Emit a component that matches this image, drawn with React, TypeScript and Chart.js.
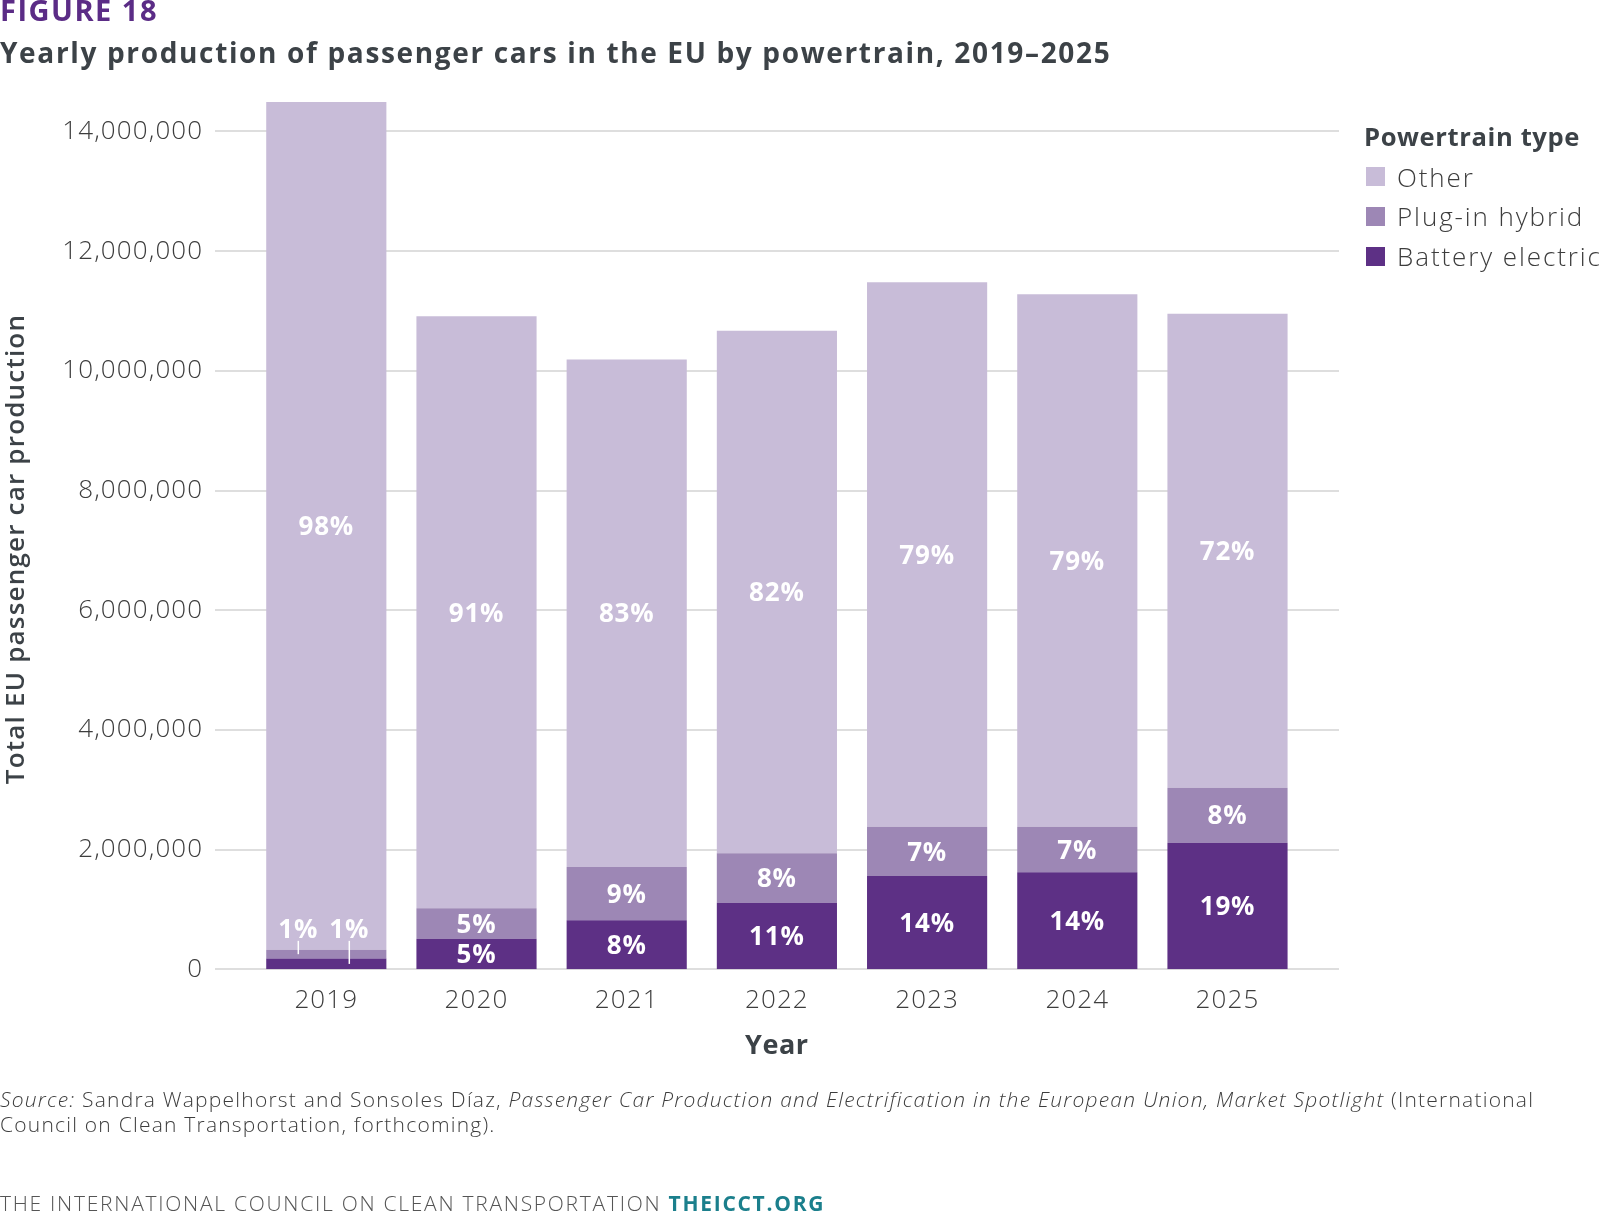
import React, { useEffect, useRef } from 'react';
import { Chart, registerables } from 'chart.js';

Chart.register(...registerables);

// ---------- data ----------
const years = ['2019', '2020', '2021', '2022', '2023', '2024', '2025'];
const batteryElectric = [180000, 510000, 820000, 1110000, 1560000, 1620000, 2115000];
const plugInHybrid = [145000, 510000, 890000, 830000, 820000, 760000, 920000];
const other = [14165000, 9890000, 8480000, 8730000, 9100000, 8900000, 7920000];

const bevPct = ['1%', '5%', '8%', '11%', '14%', '14%', '19%'];
const phevPct = ['1%', '5%', '9%', '8%', '7%', '7%', '8%'];
const otherPct = ['98%', '91%', '83%', '82%', '79%', '79%', '72%'];

const yTickValues = [0, 2000000, 4000000, 6000000, 8000000, 10000000, 12000000, 14000000];

const seriesNames = ['Battery electric', 'Plug-in hybrid', 'Other'];
const seriesColors = ['#5d3085', '#9d87b5', '#c8bcd8'];

// ---------- layout / style ----------
const FONT = '"Open Sans", "Noto Sans", sans-serif';
const W = 1600;
const H = 1214;
const GRID_LEFT = 215;
const GRID_RIGHT = 1339;

const spacingPlugin = {
  id: 'spacing',
  beforeDraw(chart: any) {
    chart.ctx.letterSpacing = '1.1px';
  },
  afterDraw(chart: any) {
    chart.ctx.letterSpacing = '0px';
  },
};

const gridPlugin = {
  id: 'extGrid',
  beforeDatasetsDraw(chart: any) {
    const { ctx } = chart;
    const y = chart.scales.y;
    ctx.save();
    ctx.strokeStyle = '#dedede';
    ctx.lineWidth = 2;
    y.ticks.forEach((t: any) => {
      const py = Math.round(y.getPixelForValue(t.value));
      ctx.beginPath();
      ctx.moveTo(GRID_LEFT, py);
      ctx.lineTo(GRID_RIGHT, py);
      ctx.stroke();
    });
    ctx.restore();
  },
};

const labelPlugin = {
  id: 'segLabels',
  afterDatasetsDraw(chart: any) {
    const { ctx } = chart;
    const sets = [bevPct, phevPct, otherPct];
    const fs = 26;
    ctx.save();
    ctx.letterSpacing = '0.8px';
    ctx.font = `700 ${fs}px ${FONT}`;
    ctx.fillStyle = '#ffffff';
    ctx.strokeStyle = '#ffffff';
    ctx.lineWidth = 1.5;
    ctx.textAlign = 'center';
    ctx.textBaseline = 'alphabetic';
    const phevMeta = chart.getDatasetMeta(1);
    chart.data.datasets.forEach((_ds: any, di: number) => {
      const meta = chart.getDatasetMeta(di);
      meta.data.forEach((bar: any, i: number) => {
        const p = bar.getProps(['x', 'y', 'base'], true);
        const mid = (p.y + p.base) / 2;
        let tx = p.x;
        let ty = mid;
        if (i === 0 && di < 2) {
          const phevTop = phevMeta.data[0].getProps(['y'], true).y;
          tx = p.x + (di === 1 ? -28 : 23);
          ty = phevTop - 21;
          ctx.beginPath();
          ctx.moveTo(tx, ty + 12);
          ctx.lineTo(tx, mid);
          ctx.stroke();
        }
        ctx.fillText(sets[di][i], tx, ty + 0.357 * fs);
      });
    });
    ctx.restore();
  },
};

function ChartCanvas() {
  const ref = useRef<HTMLCanvasElement>(null);
  useEffect(() => {
    if (!ref.current) return;
    const chart = new Chart(ref.current, {
      type: 'bar',
      data: {
        labels: years,
        datasets: [
          { label: seriesNames[0], data: batteryElectric, backgroundColor: seriesColors[0] },
          { label: seriesNames[1], data: plugInHybrid, backgroundColor: seriesColors[1] },
          { label: seriesNames[2], data: other, backgroundColor: seriesColors[2] },
        ],
      },
      options: {
        responsive: false,
        animation: false,
        devicePixelRatio: 1,
        layout: { padding: { left: 0, right: W - 1302.6, top: 95.5, bottom: 184.7 } },
        datasets: { bar: { categoryPercentage: 1, barPercentage: 0.8, borderWidth: 0 } },
        plugins: { legend: { display: false }, tooltip: { enabled: false } },
        scales: {
          x: {
            stacked: true,
            grid: { display: false },
            border: { display: false },
            ticks: { font: { family: FONT, size: 26, weight: 300 }, color: '#3d3d3d', padding: 8 },
            afterFit(s: any) { s.height = 60; },
          },
          y: {
            stacked: true,
            min: 0,
            max: 14600000,
            grid: { display: false, drawTicks: false },
            border: { display: false },
            afterBuildTicks(s: any) {
              s.ticks = yTickValues.map((v) => ({ value: v }));
            },
            ticks: {
              padding: 48,
              font: { family: FONT, size: 26, weight: 300 },
              color: '#3d3d3d',
              callback: (v: any) => Number(v).toLocaleString('en-US'),
            },
            afterFit(s: any) { s.width = 251.2; },
          },
        },
      },
      plugins: [spacingPlugin, gridPlugin, labelPlugin],
    } as any);
    return () => chart.destroy();
  }, []);
  return (
    <canvas
      ref={ref}
      width={W}
      height={H}
      style={{ position: 'absolute', left: 0, top: 0, width: W, height: H }}
    />
  );
}

function Txt(props: { x: number; baseline: number; fs: number; weight?: number; color?: string; children: any; align?: 'left' | 'center'; width?: number; ls?: number }) {
  const { x, baseline, fs, weight = 400, color = '#3d3d3d', children, align = 'left', width, ls = 0 } = props;
  const top = baseline - 0.888 * fs;
  const style: any = {
    position: 'absolute',
    top,
    left: align === 'center' ? x - (width || 400) / 2 : x,
    width: align === 'center' ? width || 400 : undefined,
    textAlign: align,
    fontSize: fs,
    lineHeight: 1,
    fontWeight: weight,
    color,
    whiteSpace: 'nowrap',
    fontFamily: FONT,
    letterSpacing: ls,
  };
  return <div style={style}>{children}</div>;
}

export default function App() {
  const legendRows = [
    { name: seriesNames[2], color: seriesColors[2] },
    { name: seriesNames[1], color: seriesColors[1] },
    { name: seriesNames[0], color: seriesColors[0] },
  ];
  return (
    <div style={{ position: 'absolute', left: 0, top: 0, width: W, height: H, background: '#fff', overflow: 'hidden', fontFamily: FONT }}>
      <ChartCanvas />
      <Txt x={0} baseline={21} fs={29} weight={700} color="#5b2c86" ls={1.5}>FIGURE 18</Txt>
      <Txt x={0} baseline={63} fs={28} weight={700} color="#3c4247" ls={1.65}>
        Yearly production of passenger cars in the EU by powertrain, 2019–2025
      </Txt>
      {/* y axis title */}
      <div
        style={{
          position: 'absolute',
          left: 13.5 - 300,
          top: 549 - 13,
          width: 600,
          height: 26,
          lineHeight: '26px',
          fontSize: 26,
          fontWeight: 600,
          color: '#3c4247',
          textAlign: 'center',
          transform: 'rotate(-90deg)',
          whiteSpace: 'nowrap',
          letterSpacing: 1.2,
        }}
      >
        Total EU passenger car production
      </div>
      <Txt x={776.8} baseline={1054} fs={27} weight={700} color="#3c4247" align="center" width={200} ls={0.5}>Year</Txt>
      {/* legend */}
      <Txt x={1364} baseline={146.7} fs={25.6} weight={700} color="#3c4247" ls={0.6}>Powertrain type</Txt>
      {legendRows.map((r, i) => (
        <React.Fragment key={r.name}>
          <div style={{ position: 'absolute', left: 1366, top: 166.7 + i * 40, width: 19, height: 19, background: r.color }} />
          <Txt x={1397} baseline={187 + i * 39.4} fs={26} weight={300} color="#3d3d3d" ls={1.9}>{r.name}</Txt>
        </React.Fragment>
      ))}
      {/* source */}
      <Txt x={0} baseline={1108} fs={21} weight={300} color="#3d3d3d" ls={1.22}>
        <i>Source:</i> Sandra Wappelhorst and Sonsoles Díaz, <i>Passenger Car Production and Electrification in the European Union, Market Spotlight</i> (International
      </Txt>
      <Txt x={0} baseline={1132.5} fs={21} weight={300} color="#3d3d3d" ls={1.22}>
        Council on Clean Transportation, forthcoming).
      </Txt>
      <Txt x={0} baseline={1212} fs={21} weight={300} color="#555" ls={1.73}>
        THE INTERNATIONAL COUNCIL ON CLEAN TRANSPORTATION <span style={{ color: '#1b7f8c', fontWeight: 700 }}>THEICCT.ORG</span>
      </Txt>
    </div>
  );
}
